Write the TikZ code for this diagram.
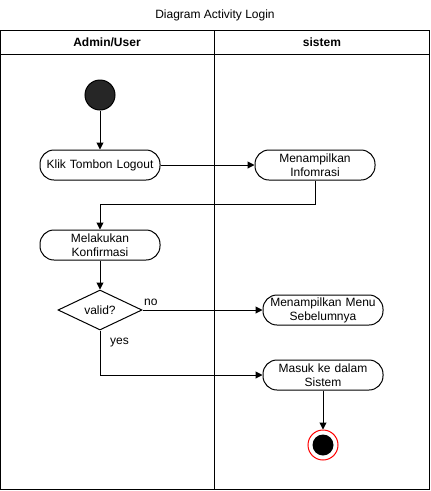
\documentclass[tikz,border=0pt]{standalone}
\usepackage{fontspec}
\setmainfont{Liberation Sans}
\usetikzlibrary{shapes.geometric,arrows.meta}
\begin{document}
\begin{tikzpicture}[x=1pt,y=-1pt,
  every node/.style={font=\fontsize{12}{14}\selectfont},
  act/.style={draw,rounded corners=14pt,minimum width=120pt,minimum height=30pt,inner sep=1pt,align=center,line width=1pt,text width=116pt},
  flow/.style={draw,line width=1pt,-{Triangle[width=7pt,length=7pt]}},
  lane/.style={draw,line width=1pt}]
\useasboundingbox (0,0) rectangle (431,491);
\node (title) at (215,15) {Diagram Activity Login};
\draw[lane] (0.5,30.5) rectangle (429.5,489.5);
\draw[lane] (0.5,54) -- (429.5,54);
\draw[lane] (214,30.5) -- (214,489.5);
\node[font=\bfseries\fontsize{12}{14}\selectfont] (h1) at (107,42) {Admin/User};
\node[font=\bfseries\fontsize{12}{14}\selectfont] (h2) at (322,42) {sistem};
\node[circle,fill=black!85,draw=black,line width=1pt,minimum size=30pt,inner sep=0pt] (start) at (100,95) {};
\node[act] (klik) at (100,165) {Klik Tombon Logout};
\node[act] (info) at (315,165) {Menampilkan\\Infomrasi};
\node[act] (konf) at (100,245) {Melakukan\\Konfirmasi};
\node[diamond,draw,line width=1pt,minimum width=84pt,minimum height=40pt,inner sep=0pt,aspect=2.1] (valid) at (100,310) {valid?};
\node[act] (menu) at (323,310) {Menampilkan Menu\\Sebelumnya};
\node[act] (masuk) at (323,375) {Masuk ke dalam\\Sistem};
\node[circle,draw=red,fill=white,line width=1pt,minimum size=30pt,inner sep=0pt] (end) at (323,445) {};
\node[circle,fill=black,minimum size=21pt,inner sep=0pt] (endin) at (end) {};
\draw[flow] (start) -- (klik);
\draw[flow] (klik) -- (info);
\coordinate (c1) at (315,204);
\coordinate (c2) at (100,204);
\draw[flow] (info.south) -- (c1) -- (c2) -- (konf.north);
\draw[flow] (konf) -- (valid.north);
\draw[flow] (valid.east) -- (menu.west);
\node[anchor=west,inner sep=0pt] (no) at (144,302) {no};
\coordinate (c3) at (100,375);
\draw[flow] (valid.south) -- (c3) -- (masuk.west);
\node[anchor=west,inner sep=0pt] (yes) at (110,343) {yes};
\draw[flow] (masuk) -- (end);
\end{tikzpicture}
\end{document}
